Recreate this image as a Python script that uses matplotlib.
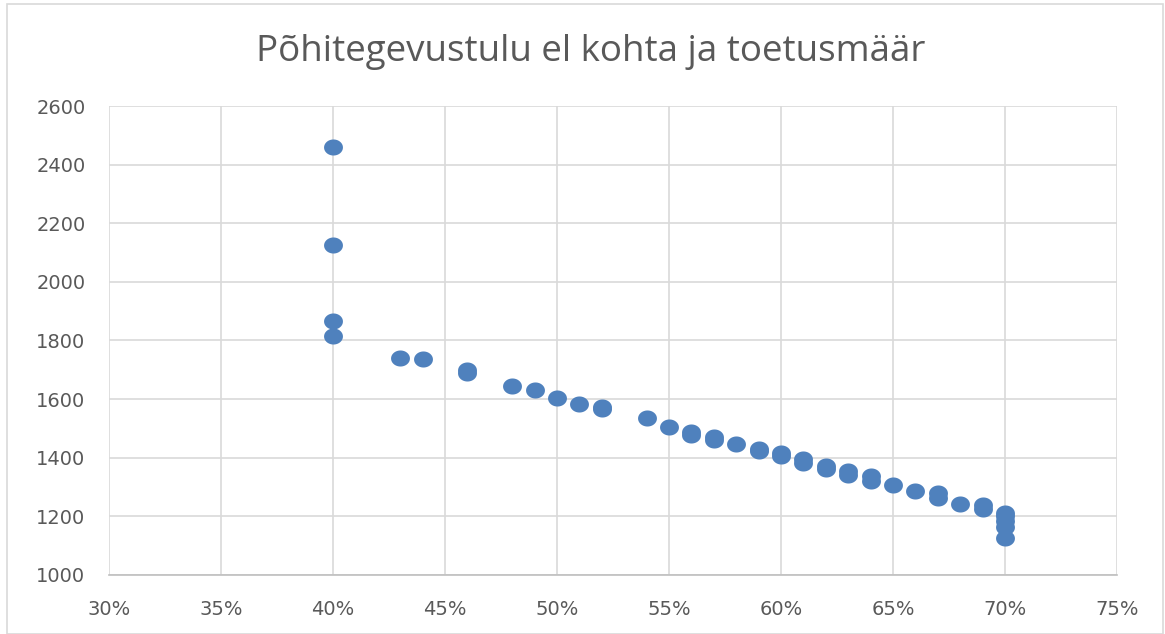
import numpy as np
import matplotlib.pyplot as plt
from matplotlib.path import Path
from matplotlib.patches import Rectangle
from matplotlib.ticker import PercentFormatter

# support rate (%) and core revenue per inhabitant
rate = [40, 40, 40, 40, 43, 44, 46, 46, 48, 49, 50, 51, 52, 52, 54, 55, 56, 56,
        57, 57, 58, 59, 59, 60, 60, 61, 61, 62, 62, 63, 63, 64, 64, 65, 66, 67,
        67, 68, 69, 69, 70, 70, 70, 70, 70]
revenue = [2460, 2125, 1868, 1815, 1740, 1737, 1700, 1688, 1645, 1631, 1605,
           1583, 1572, 1566, 1537, 1505, 1488, 1478, 1470, 1462, 1447, 1430,
           1422, 1415, 1405, 1395, 1383, 1373, 1362, 1355, 1342, 1338, 1322,
           1307, 1287, 1280, 1264, 1242, 1238, 1225, 1213, 1200, 1185, 1165,
           1125]

TITLE = "Põhitegevustulu el kohta ja toetusmäär"
TEXT_COLOR = "#595959"
GRID_COLOR = "#D9D9D9"
POINT_COLOR = "#4F81BD"

# slightly wide ellipse marker (the source image is stretched horizontally)
t = np.linspace(0, 2 * np.pi, 60)
ellipse = Path(np.column_stack([np.cos(t), 0.85 * np.sin(t)]), closed=True)

fig = plt.figure(figsize=(11.65, 6.34), dpi=100)
fig.patches.append(Rectangle((0.006, 0.0), 0.992, 0.993, transform=fig.transFigure,
                             fill=False, edgecolor=GRID_COLOR, linewidth=1.2))

ax = fig.add_axes([0.0936, 0.0931, 0.8652, 0.7397])
ax.scatter(rate, revenue, s=185, marker=ellipse, color=POINT_COLOR,
           linewidths=0, zorder=3)

ax.set_xlim(30, 75)
ax.set_ylim(1000, 2600)
ax.set_xticks(np.arange(30, 76, 5))
ax.set_yticks(np.arange(1000, 2601, 200))
ax.xaxis.set_major_formatter(PercentFormatter(decimals=0))
ax.grid(True, color=GRID_COLOR, linewidth=1.2)
ax.set_axisbelow(True)
for side in ["top", "right", "left"]:
    ax.spines[side].set_visible(False)
ax.spines["bottom"].set_color("#BFBFBF")
ax.spines["bottom"].set_linewidth(1.2)
ax.tick_params(length=0, labelsize=14, labelcolor=TEXT_COLOR)
ax.tick_params(axis="x", pad=18)
ax.tick_params(axis="y", pad=17)

fig.text(0.507, 0.918, TITLE, ha="center", va="center", fontsize=26.5,
         color=TEXT_COLOR, family="Open Sans")

fig.savefig("out.png", dpi=100)
